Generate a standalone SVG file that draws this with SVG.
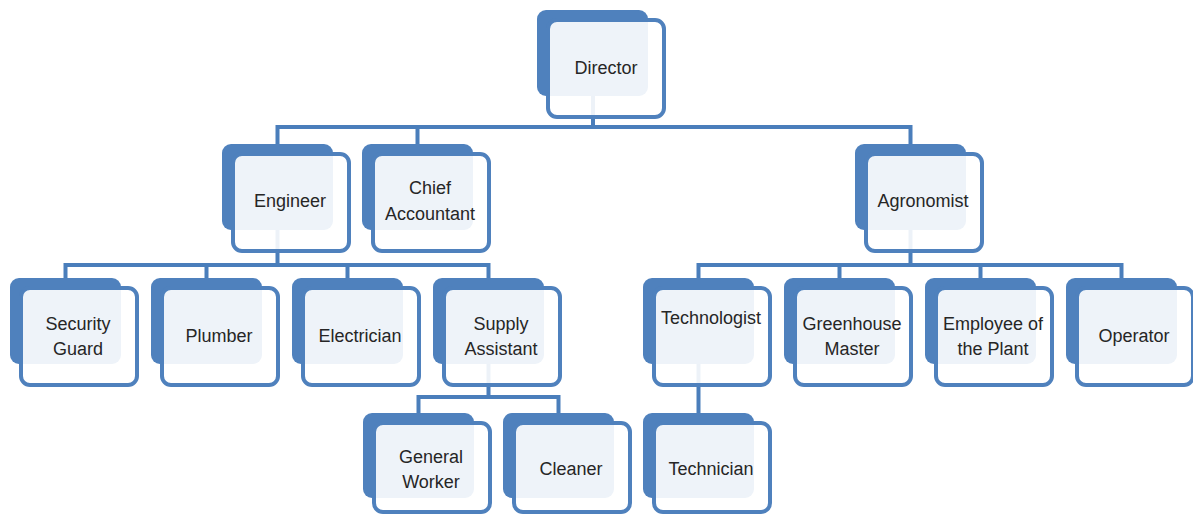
<svg xmlns="http://www.w3.org/2000/svg" width="1193" height="514" viewBox="0 0 1193 514">
  <style>
    .back { fill: #4f81bd; }
    .front { fill: #ffffff; fill-opacity: 0.9; stroke: #4f81bd; stroke-width: 4; }
    .conn { fill: none; stroke: #4a7ebb; stroke-width: 4; stroke-linejoin: miter; }
    .lbl { font-family: "Liberation Sans", Arial, sans-serif; font-size: 18px; fill: #262626; text-anchor: middle; dominant-baseline: central; }
  </style>
  <defs>
    <!-- one card: solid back tab plus translucent bordered front -->
    <g id="card">
      <rect class="back" x="0" y="0" width="111" height="86" rx="9"/>
      <rect class="front" x="11" y="10" width="116" height="97" rx="9"/>
    </g>
    <!-- shorter card for the bottom row -->
    <g id="card-low">
      <rect class="back" x="0" y="0" width="111" height="85" rx="9"/>
      <rect class="front" x="11" y="10" width="116" height="89" rx="9"/>
    </g>
  </defs>

  <rect width="1193" height="514" fill="#ffffff"/>

  <g id="connectors">
    <!-- Director to second level -->
    <path class="conn" d="M593,80 V127 M277.5,144 V127 H910.5 V145 M417.5,127 V144"/>
    <!-- Engineer to trades -->
    <path class="conn" d="M277.5,220 V265 M65.5,278 V265 H488.5 V278 M206.5,265 V278 M347.5,265 V278"/>
    <!-- Agronomist to production staff -->
    <path class="conn" d="M910.5,220 V265 M698.5,278 V265 H1121.5 V278 M839.5,265 V278 M980.5,265 V278"/>
    <!-- Supply Assistant to helpers -->
    <path class="conn" d="M488.5,350 V397 M418.5,413 V397 H558.5 V413"/>
    <!-- Technologist to Technician -->
    <path class="conn" d="M698.5,350 V413"/>
  </g>

  <g id="director">
    <use href="#card" x="537" y="10"/>
    <text class="lbl" x="606" y="68">Director</text>
  </g>

  <g id="engineer">
    <use href="#card" x="222" y="144"/>
    <text class="lbl" x="290" y="201">Engineer</text>
  </g>
  <g id="chief-accountant">
    <use href="#card" x="362" y="144"/>
    <text class="lbl" x="430" y="188">Chief</text>
    <text class="lbl" x="430" y="214">Accountant</text>
  </g>
  <g id="agronomist">
    <use href="#card" x="855" y="144"/>
    <text class="lbl" x="923" y="201">Agronomist</text>
  </g>

  <g id="security-guard">
    <use href="#card" x="10" y="278"/>
    <text class="lbl" x="78" y="324">Security</text>
    <text class="lbl" x="78" y="349">Guard</text>
  </g>
  <g id="plumber">
    <use href="#card" x="151" y="278"/>
    <text class="lbl" x="219" y="336">Plumber</text>
  </g>
  <g id="electrician">
    <use href="#card" x="292" y="278"/>
    <text class="lbl" x="360" y="336">Electrician</text>
  </g>
  <g id="supply-assistant">
    <use href="#card" x="433" y="278"/>
    <text class="lbl" x="501" y="324">Supply</text>
    <text class="lbl" x="501" y="349">Assistant</text>
  </g>

  <g id="technologist">
    <use href="#card" x="643" y="278"/>
    <text class="lbl" x="711" y="318">Technologist</text>
  </g>
  <g id="greenhouse-master">
    <use href="#card" x="784" y="278"/>
    <text class="lbl" x="852" y="324">Greenhouse</text>
    <text class="lbl" x="852" y="349">Master</text>
  </g>
  <g id="employee-of-the-plant">
    <use href="#card" x="925" y="278"/>
    <text class="lbl" x="993" y="324">Employee of</text>
    <text class="lbl" x="993" y="349">the Plant</text>
  </g>
  <g id="operator">
    <use href="#card" x="1066" y="278"/>
    <text class="lbl" x="1134" y="336">Operator</text>
  </g>

  <g id="general-worker">
    <use href="#card-low" x="363" y="413"/>
    <text class="lbl" x="431" y="457">General</text>
    <text class="lbl" x="431" y="482">Worker</text>
  </g>
  <g id="cleaner">
    <use href="#card-low" x="503" y="413"/>
    <text class="lbl" x="571" y="469">Cleaner</text>
  </g>
  <g id="technician">
    <use href="#card-low" x="643" y="413"/>
    <text class="lbl" x="711" y="469">Technician</text>
  </g>
</svg>
